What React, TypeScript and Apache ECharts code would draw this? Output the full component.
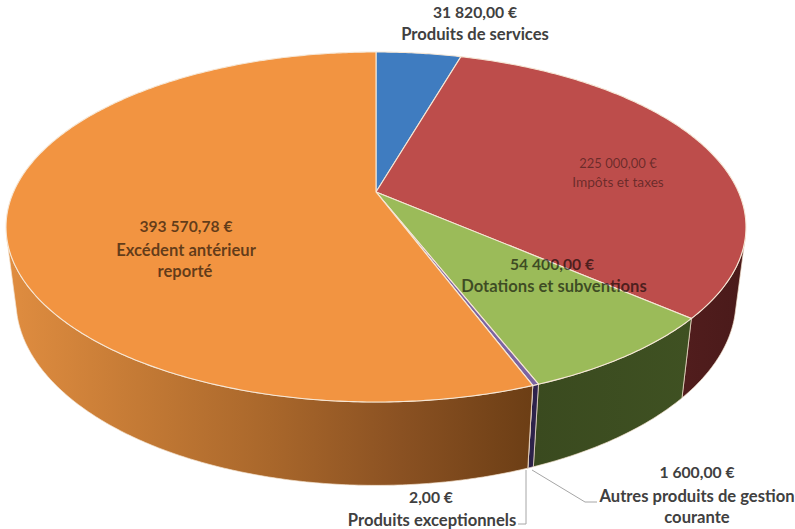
import React, { useEffect, useRef } from "react";
import * as echarts from "echarts";

const categories = [
  "Produits de services",
  "Impôts et taxes",
  "Dotations et subventions",
  "Autres produits de gestion courante",
  "Produits exceptionnels",
  "Excédent antérieur reporté",
];
const values = [31820, 225000, 54400, 1600, 2, 393570.78];
const topColors = ["#3f7cc0", "#bd4d4b", "#9bbb59", "#7b64a2", "#c4b5dc", "#f29441"];
const sideStops: string[][] = [
  ["#2a4a72", "#2a4a72"],
  ["#511d1d", "#4a1a1a"],
  ["#3a4a1f", "#3f5122"],
  ["#2a2044", "#2f2450"],
  ["#2a2044", "#2f2450"],
  ["#e08d40", "#c47a35", "#a9672b", "#8a5122", "#6c3e15"],
];

const total = values.reduce((a, b) => a + b, 0);
const starts: number[] = [];
values.reduce((acc, v, i) => {
  starts[i] = acc;
  return acc + v;
}, 0);

// perspective projection of the pie's disc
const CX = 376;
const CY = 192;
const A = 362.5;
const B = 168;
const P = 0.2;
const Q = 0.0266;
const C = 74.5;

function project(theta: number, depth: number): number[] {
  const X = Math.sin(theta);
  const Y = Math.cos(theta);
  const w = 1 + P * Y + Q * depth;
  return [CX + (A * X) / w, CY + (-B * Y + C * depth) / w];
}

function angleRange(i: number): number[] {
  return [(starts[i] / total) * 2 * Math.PI, ((starts[i] + values[i]) / total) * 2 * Math.PI];
}

function arc(a0: number, a1: number, depth: number): number[][] {
  const n = Math.max(1, Math.ceil(Math.abs(a1 - a0) / 0.01));
  const out: number[][] = [];
  for (let k = 0; k <= n; k++) out.push(project(a0 + ((a1 - a0) * k) / n, depth));
  return out;
}

// the wall faces the viewer while its outline has not folded over itself
function facing(theta: number): number {
  const e = 0.001;
  const p = project(theta, 0);
  const q = project(theta + e, 0);
  const d = project(theta, 1);
  return (q[0] - p[0]) * (d[1] - p[1]) - (q[1] - p[1]) * (d[0] - p[0]);
}
function silhouette(dir: number): number {
  let t = Math.PI;
  const s = facing(t);
  while (facing(t + dir * 0.002) * s > 0 && Math.abs(t - Math.PI) < Math.PI) t += dir * 0.002;
  return t;
}
const FRONT0 = silhouette(-1);
const FRONT1 = silhouette(1);

function renderSide(params: any) {
  const i = params.dataIndex;
  const [a, b] = angleRange(i);
  const a0 = Math.max(a, FRONT0);
  const a1 = Math.min(b, FRONT1);
  if (a1 <= a0) return { type: "group", children: [] };
  const pts = [...arc(a0, a1, 0), ...arc(a1, a0, 1)];
  const stops = sideStops[i];
  return {
    type: "polygon",
    shape: { points: pts },
    style: {
      fill: new echarts.graphic.LinearGradient(
        0, 0, 1, 0,
        stops.map((color, k) => ({ offset: k / (stops.length - 1), color }))
      ),
      stroke: "#f3e3cf",
      lineWidth: 0.7,
    },
  };
}

function renderTop(params: any) {
  const i = params.dataIndex;
  const [a, b] = angleRange(i);
  const pts = [[CX, CY], ...arc(a, b, 0)];
  return {
    type: "polygon",
    shape: { points: pts },
    style: { fill: topColors[i], stroke: "#f6e7d6", lineWidth: 1.1 },
  };
}

const FONT = "Lato, 'Noto Sans', sans-serif";
const GRAY = "#404040";
const ON_SLICE = "rgba(0,0,0,0.6)";
const ON_RED = "rgba(0,0,0,0.45)";
const labelTexts: [string, number, number, string, number, number][] = [
  ["31 820,00 €", 475, 12, GRAY, 15.7, 700],
  ["Produits de services", 475, 34, GRAY, 16.6, 700],
  ["225 000,00 €", 618, 163, ON_RED, 13, 400],
  ["Impôts et taxes", 618, 181, ON_RED, 13.7, 400],
  ["54 400,00 €", 552, 264, ON_SLICE, 15.7, 700],
  ["Dotations et subventions", 554, 286, ON_SLICE, 16.6, 700],
  ["393 570,78 €", 186, 226, ON_SLICE, 15.7, 700],
  ["Excédent antérieur", 186, 250, ON_SLICE, 16.6, 700],
  ["reporté", 185, 271, ON_SLICE, 16.6, 700],
  ["1 600,00 €", 697, 472, GRAY, 15.7, 700],
  ["Autres produits de gestion", 697, 496, GRAY, 16.6, 700],
  ["courante", 697, 517, GRAY, 16.6, 700],
  ["2,00 €", 431, 497, GRAY, 15.7, 700],
  ["Produits exceptionnels", 432, 520, GRAY, 16.6, 700],
];

const leaderLines: number[][][] = [
  [[526, 470], [526, 524], [518, 524]],
  [[532, 470], [585, 502], [597, 502]],
];

export default function App() {
  const ref = useRef<HTMLDivElement>(null);
  useEffect(() => {
    document.body.style.margin = "0";
    const chart = echarts.init(ref.current!, null, { renderer: "svg" });
    chart.setOption({
      animation: false,
      backgroundColor: "#ffffff",
      series: [
        {
          type: "custom",
          name: "Côtés",
          coordinateSystem: "none",
          silent: true,
          z: 1,
          renderItem: renderSide,
          data: categories.map((name, i) => ({ name, value: values[i] })),
        },
        {
          type: "custom",
          name: "Dessus",
          coordinateSystem: "none",
          silent: true,
          z: 2,
          renderItem: renderTop,
          data: categories.map((name, i) => ({ name, value: values[i] })),
        },
      ],
      graphic: [
        ...leaderLines.map((points) => ({
          type: "polyline",
          z: 5,
          shape: { points },
          style: { stroke: "#a6a6a6", lineWidth: 1, fill: "none" },
        })),
        ...labelTexts.map(([text, x, y, fill, fontSize, fontWeight]) => ({
          type: "text",
          z: 6,
          x,
          y,
          style: { text, fill, fontSize, fontWeight, fontFamily: FONT, align: "center", verticalAlign: "middle" },
        })),
      ],
    });
    return () => chart.dispose();
  }, []);
  return <div ref={ref} style={{ position: "absolute", left: 0, top: 0, width: 795, height: 529 }} />;
}
